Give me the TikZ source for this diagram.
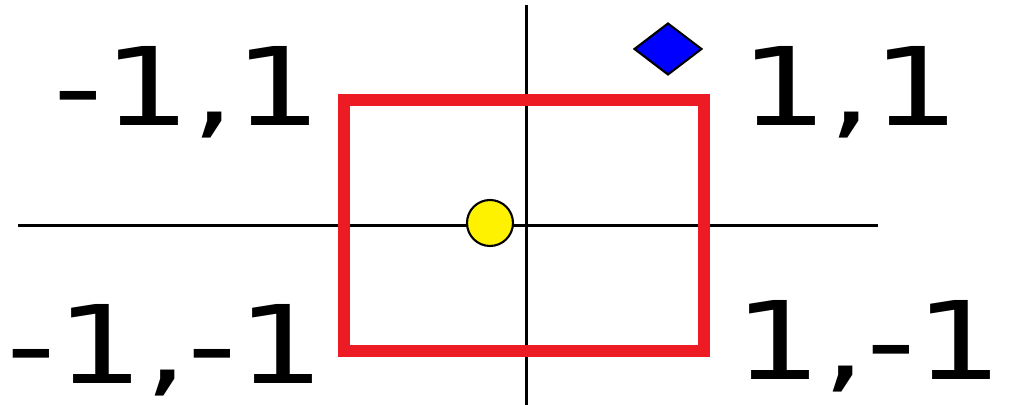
\documentclass[tikz,border=0pt]{standalone}
\usepackage{fontspec}
\newfontfamily\cornerfont{DejaVu Sans}
\usepackage{tikz}
\usetikzlibrary{calc}
\definecolor{boxred}{RGB}{237,28,36}
\tikzset{
  axisline/.style={line width=0.85pt},
  square/.style={draw=boxred, line width=3.4pt},
  corner/.style={font=\cornerfont\fontsize{30.85}{36}\selectfont, inner sep=0pt,
    anchor=base west, xscale=1.27},
  dot/.style={fill=yellow, draw=black, line width=0.6pt},
  gem/.style={fill=blue, draw=black, line width=0.6pt},
}

\begin{document}
\begin{tikzpicture}
  \useasboundingbox (-5.27,-1.79) rectangle (4.85,2.26);
  % axes through the origin
  \coordinate (xl) at (-5.09,0);
  \coordinate (xr) at (3.51,0);
  \coordinate (yb) at (0,-1.79);
  \coordinate (yt) at (0,2.21);
  \draw[axisline] (xl) -- (xr);
  \draw[axisline] (yb) -- (yt);
  % the red square
  \coordinate (sw) at (-1.83,-1.25);
  \coordinate (ne) at (1.77,1.26);
  \draw[square] (sw) rectangle (ne);
  % yellow point and blue diamond
  \coordinate (p) at (-0.37,0.03);
  \draw[dot] (p) circle (0.23);
  \coordinate (q) at (1.41,1.77);
  \draw[gem] ($(q)+(-0.335,0)$) -- ($(q)+(0,0.255)$) -- ($(q)+(0.335,0)$)
    -- ($(q)+(0,-0.255)$) -- cycle;
  % corner labels
  \node[corner] (nw) at (-4.74,1.00) {-1,1};
  \node[corner] (ner) at (2.13,1.00) {1,1};
  \node[corner] (swl) at (-5.21,-1.58) {-1,-1};
  \node[corner] (se) at (2.07,-1.54) {1,-1};
\end{tikzpicture}
\end{document}
